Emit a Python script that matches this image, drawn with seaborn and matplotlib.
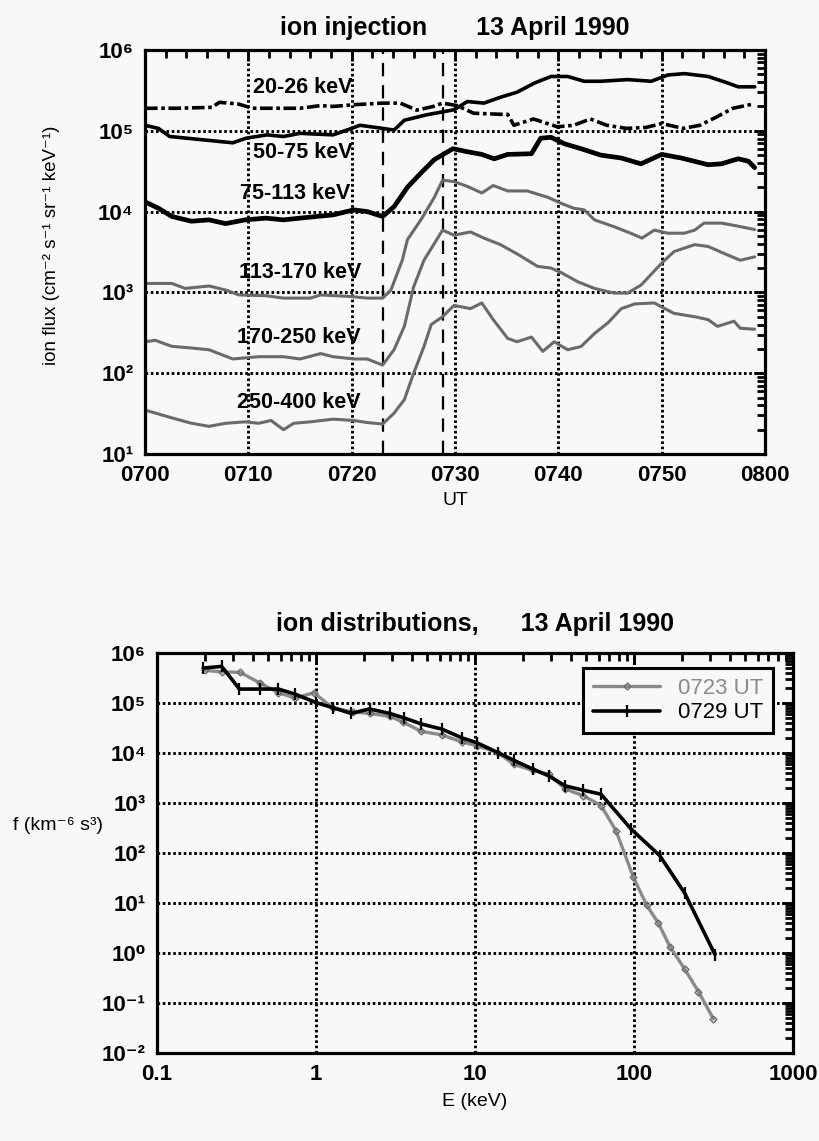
import numpy as np
import matplotlib
matplotlib.use("Agg")
import matplotlib.pyplot as plt
import matplotlib.ticker as mtick
import seaborn as sns

# ---------------------------------------------------------------------------
# data
# ---------------------------------------------------------------------------
# top panel: minutes after 0700 UT, ion flux
t_20_26 = [0, 3, 6.5, 7.2, 9, 10.4, 13, 15, 17, 18.2, 20.2, 23, 24.7, 26.3, 27.9, 28.8, 30.2,
           31.8, 34.4, 35.1, 35.7, 37.6, 39.9, 41.5, 43.1, 44.7, 46.6, 48.5, 50, 52.1, 53.7,
           55.3, 56.9, 58.9]
flux_20_26 = [1.9e5, 1.9e5, 1.95e5, 2.25e5, 2.15e5, 1.9e5, 1.9e5, 1.9e5, 2.05e5, 2.0e5, 2.1e5,
              2.2e5, 2.2e5, 1.8e5, 2.0e5, 2.2e5, 2.05e5, 1.65e5, 1.6e5, 1.6e5, 1.17e5, 1.4e5,
              1.12e5, 1.17e5, 1.4e5, 1.17e5, 1.07e5, 1.1e5, 1.23e5, 1.07e5, 1.17e5, 1.48e5,
              1.9e5, 2.15e5]

t_50_75 = [0, 1.3, 2.4, 5.3, 8.5, 9.8, 11.8, 13.4, 15, 18.2, 20.0, 20.8, 23.0, 24.1, 25.1, 27.3,
           29.9, 31.2, 32.8, 34.4, 36, 37.7, 39.3, 40.9, 42.5, 44.1, 46.7, 49, 50.6, 52.2, 54.5,
           56.4, 57.4, 59]
flux_50_75 = [1.17e5, 1.07e5, 8.5e4, 7.8e4, 7.1e4, 8.1e4, 8.9e4, 8.5e4, 9.3e4, 8.9e4, 1.07e5,
              1.17e5, 1.07e5, 1.02e5, 1.35e5, 1.58e5, 1.82e5, 2.3e5, 2.2e5, 2.6e5, 3.0e5, 3.9e5,
              4.7e5, 4.7e5, 4.1e5, 4.1e5, 4.3e5, 4.1e5, 4.9e5, 5.1e5, 4.7e5, 3.9e5, 3.5e5, 3.5e5]

t_75_113 = [0, 1.3, 2.6, 4.5, 6.2, 7.8, 9.7, 11.7, 13.4, 15, 16.6, 18.2, 20.2, 21.5, 23, 24.1,
            25.4, 26.7, 28.0, 29.8, 31.2, 32.6, 33.8, 35.1, 37.4, 38.3, 39.3, 40.6, 42.2, 44.1,
            46.1, 48, 50, 51.9, 54.5, 55.8, 57.4, 58.4, 59]
flux_75_113 = [1.32e4, 1.1e4, 8.7e3, 7.6e3, 7.9e3, 7.1e3, 7.9e3, 8.3e3, 7.9e3, 8.3e3, 8.7e3,
               9.1e3, 1.05e4, 1.0e4, 8.7e3, 1.15e4, 2.0e4, 3.0e4, 4.4e4, 6.0e4, 5.5e4, 5.1e4,
               4.5e4, 5.1e4, 5.2e4, 8.1e4, 8.3e4, 6.9e4, 6.0e4, 5.0e4, 4.6e4, 3.9e4, 5.1e4,
               4.6e4, 3.8e4, 3.9e4, 4.5e4, 4.2e4, 3.5e4]

t_113_170 = [0, 2.6, 3.9, 6.2, 7.8, 9.1, 11.7, 13.4, 16, 17, 19.9, 21.5, 23.0, 23.8, 24.9, 25.4,
             26.7, 28.0, 28.8, 29.9, 31.2, 32.6, 33.7, 35.1, 37, 39, 40.3, 41.5, 42.5, 43.5,
             45.4, 47, 48.1, 49.3, 50.6, 52.2, 53.2, 54.1, 55.8, 57.4, 59]
flux_113_170 = [1.29e3, 1.29e3, 1.12e3, 1.2e3, 1.07e3, 9.3e2, 9.1e2, 8.5e2, 8.5e2, 9.3e2, 8.9e2,
                8.5e2, 8.5e2, 1.07e3, 2.5e3, 4.5e3, 7.9e3, 1.5e4, 2.45e4, 2.35e4, 2.05e4, 1.7e4,
                2.1e4, 1.8e4, 1.8e4, 1.5e4, 1.26e4, 1.1e4, 1.05e4, 7.9e3, 6.5e3, 5.4e3, 4.7e3,
                5.9e3, 5.4e3, 5.4e3, 5.9e3, 7.2e3, 7.2e3, 6.6e3, 6.0e3]

t_170_250 = [0, 1, 2.6, 4.5, 6.2, 8.5, 11, 13.4, 15, 17, 18.2, 20.2, 21.5, 23.0, 24.1, 25.1,
             26.0, 27.0, 28.8, 29.9, 31.5, 32.8, 34.4, 36, 38, 39.3, 40.3, 41.9, 43.5, 45.4,
             46.7, 48, 50, 51.2, 53.2, 54.5, 56.4, 57.6, 59]
flux_170_250 = [245, 255, 215, 205, 195, 150, 160, 160, 150, 175, 160, 150, 150, 126, 195, 380,
                1.17e3, 2.5e3, 5.9e3, 5.1e3, 5.6e3, 4.7e3, 3.9e3, 3.0e3, 2.1e3, 2.0e3, 1.75e3,
                1.35e3, 1.12e3, 980, 980, 1.23e3, 2.3e3, 3.2e3, 3.9e3, 3.7e3, 2.9e3, 2.5e3,
                2.75e3]

t_250_400 = [0, 2.6, 4.5, 6.2, 7.8, 9.7, 11, 12.2, 13.4, 14.4, 16, 18.2, 20.2, 21.5, 23.0,
             24.1, 25.1, 26.0, 27.0, 27.7, 28.8, 29.9, 31.5, 32.6, 33.7, 35.1, 36, 37.4, 38.5,
             39.6, 40.9, 42.2, 43.5, 44.8, 46.1, 47.4, 49.3, 50, 51.2, 53.2, 54.5, 55.4, 57,
             57.6, 59]
flux_250_400 = [35, 28, 24, 22, 24, 25, 24, 26, 20, 24, 25, 27, 26, 24.5, 23.5, 32, 47, 100,
                214, 400, 500, 690, 630, 740, 460, 270, 245, 280, 186, 245, 195, 214, 310, 420,
                630, 720, 740, 660, 550, 500, 460, 380, 440, 360, 350]

band_labels = ["20-26 keV", "50-75 keV", "75-113 keV", "113-170 keV", "170-250 keV", "250-400 keV"]
event_times = [23.0, 28.8]          # dashed markers (0723, 0729)
ut_ticks = [0, 10, 20, 30, 40, 50, 60]
ut_labels = ["0700", "0710", "0720", "0730", "0740", "0750", "0800"]

# bottom panel: energy (keV), phase space density
E_0723 = [0.2, 0.255, 0.333, 0.445, 0.58, 0.74, 0.97, 1.27, 1.7, 2.17, 2.9, 3.5, 4.6, 6.2, 8.3,
          10.3, 13.9, 17.6, 23, 29, 37, 48, 62, 77, 99, 120, 142, 168, 209, 254, 316]
f_0723 = [4.5e5, 4.2e5, 4.1e5, 2.5e5, 1.6e5, 1.26e5, 1.6e5, 8.1e4, 6.6e4, 6.2e4, 5.4e4, 4.2e4,
          2.7e4, 2.3e4, 1.66e4, 1.4e4, 1.02e4, 5.9e3, 4.5e3, 3.8e3, 1.9e3, 1.4e3, 890, 280, 33,
          9.1, 4.0, 1.35, 0.47, 0.17, 0.048]
E_0729 = [0.195, 0.255, 0.33, 0.445, 0.58, 0.74, 1.0, 1.27, 1.66, 2.17, 2.9, 3.6, 4.6, 6.2, 8.3,
          10.3, 13.9, 17.6, 23, 29, 37, 48, 62, 96, 145, 209, 323]
f_0729 = [5.0e5, 5.4e5, 1.9e5, 1.9e5, 1.9e5, 1.5e5, 1.02e5, 8.1e4, 6.2e4, 7.6e4, 6.2e4, 5.0e4,
          3.8e4, 3.0e4, 2.0e4, 1.6e4, 1.02e4, 7.1e3, 4.8e3, 3.5e3, 2.2e3, 1.8e3, 1.5e3, 300, 89,
          15.5, 0.93]
E_ticks = [0.1, 1, 10, 100, 1000]
E_labels = ["0.1", "1", "10", "100", "1000"]

# ---------------------------------------------------------------------------
# style
# ---------------------------------------------------------------------------
BG = "#f8f8f8"
GRAY = "#6a6a6a"
sns.set_style("white")
plt.rcParams.update({
    "font.family": ["Liberation Sans", "DejaVu Sans"],
    "axes.facecolor": BG,
    "figure.facecolor": BG,
    "savefig.facecolor": BG,
    "text.color": "black",
    "axes.labelcolor": "black",
    "xtick.color": "black",
    "ytick.color": "black",
})
DOTS = (0, (0.9, 0.9))
SUP = str.maketrans("0123456789-", "⁰¹²³⁴⁵⁶⁷⁸⁹⁻")


def pow10_label(v, pos):
    e = int(round(np.log10(v)))
    return "10" + str(e).translate(SUP)


def frame(ax):
    for s in ax.spines.values():
        s.set_linewidth(2.3)
        s.set_color("black")
    ax.tick_params(which="both", direction="in", top=True, right=True,
                   width=2, colors="black", labelsize=16, pad=8)
    ax.tick_params(which="major", length=8)
    ax.tick_params(which="minor", length=6)
    for lab in ax.get_xticklabels() + ax.get_yticklabels():
        lab.set_fontweight("bold")


def line(ax, x, y, **kw):
    sns.lineplot(x=x, y=y, ax=ax, estimator=None, sort=False, **kw)


fig = plt.figure(figsize=(8.2, 11.41), dpi=100)

# ── top: ion injection ─────────────────────────────────────────────────────
ax1 = fig.add_axes([0.1768, 0.6021, 0.7561, 0.3541])
line(ax1, t_20_26, flux_20_26, color="black", lw=2.6, linestyle=(0, (3.5, 1.0, 1, 1.0)))
line(ax1, t_50_75, flux_50_75, color="black", lw=2.6)
line(ax1, t_75_113, flux_75_113, color="black", lw=3.4)
line(ax1, t_113_170, flux_113_170, color=GRAY, lw=2.2)
line(ax1, t_170_250, flux_170_250, color=GRAY, lw=2.2)
line(ax1, t_250_400, flux_250_400, color=GRAY, lw=2.2)
for tv in event_times:
    ax1.axvline(tv, color="black", lw=1.6, linestyle=(0, (6, 4)), zorder=1)

ax1.set_yscale("log")
ax1.set_xlim(0, 60)
ax1.set_ylim(1e1, 1e6)
ax1.yaxis.set_major_locator(mtick.FixedLocator([1e1, 1e2, 1e3, 1e4, 1e5, 1e6]))
ax1.yaxis.set_minor_locator(mtick.LogLocator(base=10, subs=np.arange(2, 10), numticks=20))
ax1.yaxis.set_major_formatter(mtick.FuncFormatter(pow10_label))
ax1.yaxis.set_minor_formatter(mtick.NullFormatter())
ax1.xaxis.set_major_locator(mtick.FixedLocator(ut_ticks))
ax1.xaxis.set_minor_locator(mtick.MultipleLocator(2))
ax1.set_xticklabels(ut_labels)
ax1.grid(True, which="major", color="black", lw=2.1, linestyle=DOTS)
frame(ax1)
ax1.set_xlabel("UT", fontsize=14, labelpad=4)
ax1.set_ylabel("ion flux (cm⁻² s⁻¹ sr⁻¹ keV⁻¹)", fontsize=13.5)
ax1.yaxis.set_label_coords(-0.137, 0.517)
ax1.set_title("ion injection       13 April 1990", fontsize=18, fontweight="bold", pad=11)

label_pos = [(20.1, 5.53), (20.1, 4.73), (19.9, 4.22), (20.9, 3.24), (20.9, 2.44), (20.9, 1.64)]
for txt, (lx, ly) in zip(band_labels, label_pos):
    ax1.text(lx, 10 ** ly, txt, ha="right", va="center", fontsize=15.5, fontweight="bold")

# ── bottom: ion distributions ──────────────────────────────────────────────
ax2 = fig.add_axes([0.1915, 0.0771, 0.7756, 0.3506])
line(ax2, E_0723, f_0723, color="#8a8a8a", lw=2.4, marker="D", markersize=3.5,
     markerfacecolor="none", markeredgecolor="#6a6a6a", markeredgewidth=1.0, label="0723 UT")
line(ax2, E_0729, f_0729, color="black", lw=2.6, marker="|", markersize=8,
     markeredgecolor="black", markeredgewidth=1.6, label="0729 UT")
ax2.set_xscale("log")
ax2.set_yscale("log")
ax2.set_xlim(0.1, 1000)
ax2.set_ylim(1e-2, 1e6)
ax2.yaxis.set_major_locator(mtick.FixedLocator([10.0 ** k for k in range(-2, 7)]))
ax2.yaxis.set_minor_locator(mtick.LogLocator(base=10, subs=np.arange(2, 10), numticks=30))
ax2.yaxis.set_major_formatter(mtick.FuncFormatter(pow10_label))
ax2.yaxis.set_minor_formatter(mtick.NullFormatter())
ax2.xaxis.set_major_locator(mtick.FixedLocator(E_ticks))
ax2.xaxis.set_minor_locator(mtick.LogLocator(base=10, subs=np.arange(2, 10), numticks=30))
ax2.xaxis.set_major_formatter(mtick.FixedFormatter(E_labels))
ax2.xaxis.set_minor_formatter(mtick.NullFormatter())
ax2.grid(True, which="major", color="black", lw=2.1, linestyle=DOTS)
frame(ax2)
ax2.set_xlabel("E (keV)", fontsize=14, labelpad=6)
ax2.set_ylabel("f (km⁻⁶ s³)", fontsize=14, rotation=0, ha="center", va="center")
ax2.yaxis.set_label_coords(-0.156, 0.57)
ax2.set_title("ion distributions,      13 April 1990", fontsize=18, fontweight="bold", pad=16)

handles, labels = ax2.get_legend_handles_labels()
leg = ax2.legend(handles, labels, loc="upper right", bbox_to_anchor=(0.969, 0.9625),
                 borderaxespad=0, fontsize=16, handlelength=3.0, fancybox=False,
                 framealpha=1, facecolor=BG, edgecolor="black", borderpad=0.45,
                 labelspacing=0.15)
leg.get_frame().set_linewidth(2.2)
leg.get_texts()[0].set_color("#8a8a8a")

fig.savefig("out.png", dpi=100)
